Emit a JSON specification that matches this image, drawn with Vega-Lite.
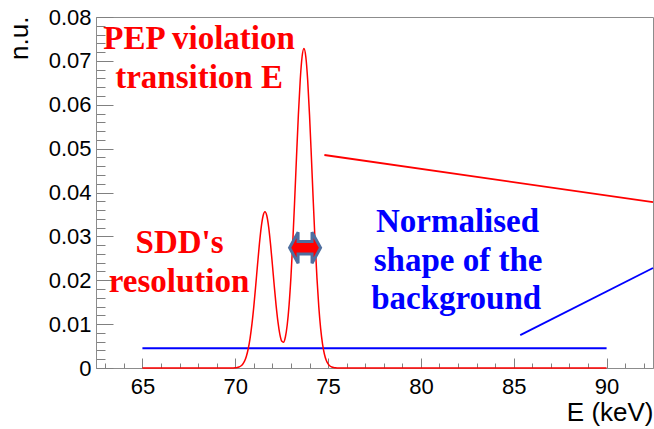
{
  "$schema": "https://vega.github.io/schema/vega-lite/v6.json",
  "width": 557,
  "height": 351,
  "autosize": "none",
  "padding": {"left": 96, "top": 17, "right": 1, "bottom": 61},
  "background": "white",
  "config": {
    "view": {"stroke": "#8c8c8c", "strokeWidth": 1},
    "axis": {
      "grid": false,
      "domainColor": "#8c8c8c",
      "tickColor": "#808080",
      "tickWidth": 1,
      "labelFont": "Liberation Sans",
      "titleFont": "Liberation Sans",
      "labelColor": "black",
      "titleColor": "black",
      "labelFontSize": 22,
      "titleFontSize": 26,
      "titleFontWeight": "normal"
    }
  },
  "datasets": {
    "spectrum": [
      {"E": 65, "v": 0},
      {"E": 69.5, "v": 0},
      {"E": 69.8, "v": 0.00001},
      {"E": 69.9, "v": 0.00002},
      {"E": 70.0, "v": 0.00005},
      {"E": 70.1, "v": 0.00011},
      {"E": 70.2, "v": 0.00023},
      {"E": 70.3, "v": 0.00045},
      {"E": 70.4, "v": 0.00087},
      {"E": 70.5, "v": 0.00156},
      {"E": 70.6, "v": 0.00269},
      {"E": 70.7, "v": 0.00439},
      {"E": 70.8, "v": 0.00682},
      {"E": 70.9, "v": 0.01004},
      {"E": 71.0, "v": 0.01405},
      {"E": 71.1, "v": 0.01867},
      {"E": 71.2, "v": 0.02355},
      {"E": 71.3, "v": 0.02822},
      {"E": 71.4, "v": 0.03211},
      {"E": 71.5, "v": 0.03469},
      {"E": 71.6, "v": 0.0356},
      {"E": 71.7, "v": 0.03469},
      {"E": 71.8, "v": 0.03212},
      {"E": 71.9, "v": 0.02823},
      {"E": 72.0, "v": 0.02359},
      {"E": 72.1, "v": 0.01876},
      {"E": 72.2, "v": 0.01427},
      {"E": 72.3, "v": 0.01051},
      {"E": 72.4, "v": 0.00774},
      {"E": 72.5, "v": 0.00616},
      {"E": 72.6, "v": 0.00589},
      {"E": 72.7, "v": 0.00707},
      {"E": 72.8, "v": 0.00985},
      {"E": 72.9, "v": 0.01439},
      {"E": 73.0, "v": 0.02076},
      {"E": 73.1, "v": 0.02883},
      {"E": 73.2, "v": 0.03822},
      {"E": 73.3, "v": 0.04818},
      {"E": 73.4, "v": 0.05771},
      {"E": 73.5, "v": 0.06566},
      {"E": 73.6, "v": 0.07094},
      {"E": 73.7, "v": 0.0728},
      {"E": 73.8, "v": 0.07094},
      {"E": 73.9, "v": 0.06566},
      {"E": 74.0, "v": 0.0577},
      {"E": 74.1, "v": 0.04816},
      {"E": 74.2, "v": 0.03817},
      {"E": 74.3, "v": 0.02873},
      {"E": 74.4, "v": 0.02054},
      {"E": 74.5, "v": 0.01394},
      {"E": 74.6, "v": 0.00898},
      {"E": 74.7, "v": 0.0055},
      {"E": 74.8, "v": 0.0032},
      {"E": 74.9, "v": 0.00177},
      {"E": 75.0, "v": 0.00093},
      {"E": 75.1, "v": 0.00046},
      {"E": 75.2, "v": 0.00022},
      {"E": 75.3, "v": 0.0001},
      {"E": 75.4, "v": 0.00004},
      {"E": 75.5, "v": 0.00002},
      {"E": 75.8, "v": 0},
      {"E": 90, "v": 0}
    ],
    "lines": [
      {"series": "background level", "group": "background", "E": 65, "v": 0.0045},
      {"series": "background level", "group": "background", "E": 90, "v": 0.0045},
      {"series": "signal pointer", "group": "signal", "E": 74.8, "v": 0.04855},
      {"series": "signal pointer", "group": "signal", "E": 92.5, "v": 0.0378},
      {"series": "background pointer", "group": "background", "E": 85.35, "v": 0.0075},
      {"series": "background pointer", "group": "background", "E": 92.5, "v": 0.0228}
    ],
    "notes": [
      {"text": "PEP violation", "group": "signal", "E": 68.05, "v": 0.07264},
      {"text": "transition E", "group": "signal", "E": 68.05, "v": 0.06375},
      {"text": "SDD's", "group": "signal", "E": 67.0, "v": 0.02614},
      {"text": "resolution", "group": "signal", "E": 66.97, "v": 0.01739},
      {"text": "Normalised", "group": "background", "E": 81.97, "v": 0.03107},
      {"text": "shape of the", "group": "background", "E": 82.0, "v": 0.02211},
      {"text": "background", "group": "background", "E": 81.9, "v": 0.01338}
    ],
    "marker": [
      {"E": 73.76, "v": 0.0274}
    ]
  },
  "resolve": {
    "scale": {"x": "shared", "y": "shared"},
    "axis": {"x": "independent", "y": "independent"}
  },
  "layer": [
    {
      "data": {"name": "lines"},
      "mark": {"type": "line", "strokeWidth": 1.8},
      "encoding": {
        "x": {
          "field": "E", "type": "quantitative",
          "scale": {"domain": [62.5, 92.5], "nice": false, "zero": false},
          "axis": {"orient": "bottom", "values": [63, 64, 66, 67, 68, 69, 71, 72, 73, 74, 76, 77, 78, 79, 81, 82, 83, 84, 86, 87, 88, 89, 91, 92], "labels": false, "domain": false, "title": null, "tickSize": -5}
        },
        "y": {
          "field": "v", "type": "quantitative",
          "scale": {"domain": [0, 0.08], "nice": false, "zero": true},
          "axis": {"orient": "left", "values": [0.002, 0.004, 0.006, 0.008, 0.012, 0.014, 0.016, 0.018, 0.022, 0.024, 0.026, 0.028, 0.032, 0.034, 0.036, 0.038, 0.042, 0.044, 0.046, 0.048, 0.052, 0.054, 0.056, 0.058, 0.062, 0.064, 0.066, 0.068, 0.072, 0.074, 0.076, 0.078], "labels": false, "domain": false, "title": null, "tickSize": -9}
        },
        "detail": {"field": "series"},
        "color": {
          "field": "group", "type": "nominal",
          "scale": {"domain": ["signal", "background"], "range": ["#ff0000", "#0000ff"]},
          "legend": null
        }
      }
    },
    {
      "data": {"name": "spectrum"},
      "mark": {"type": "line", "interpolate": "monotone", "strokeWidth": 1.5, "color": "#ff0000", "clip": false},
      "encoding": {
        "x": {
          "field": "E", "type": "quantitative",
          "axis": {
            "orient": "bottom", "values": [65, 70, 75, 80, 85, 90], "format": "d",
            "tickSize": -10, "labelPadding": 18, "title": "E (keV)",
            "titleAnchor": "end", "titleBaseline": "alphabetic", "titleY": 52
          }
        },
        "y": {
          "field": "v", "type": "quantitative",
          "axis": {
            "orient": "left", "values": [0, 0.01, 0.02, 0.03, 0.04, 0.05, 0.06, 0.07, 0.08], "format": ".2~f",
            "tickSize": -17, "labelPadding": 22, "title": "n.u.",
            "titleAnchor": "end", "titleBaseline": "alphabetic", "titleX": -69, "titleY": -1
          }
        }
      }
    },
    {
      "data": {"name": "notes"},
      "mark": {"type": "text", "font": "Liberation Serif", "fontWeight": "bold", "fontSize": 33, "align": "center", "baseline": "alphabetic"},
      "encoding": {
        "x": {"field": "E", "type": "quantitative", "axis": null},
        "y": {"field": "v", "type": "quantitative", "axis": null},
        "text": {"field": "text"},
        "color": {"field": "group", "type": "nominal", "legend": null}
      }
    },
    {
      "data": {"name": "marker"},
      "mark": {
        "type": "point", "filled": true,
        "shape": "M-1,0L-0.45,-1L-0.45,-0.4L0.45,-0.4L0.45,-1L1,0L0.45,1L0.45,0.4L-0.45,0.4L-0.45,1Z",
        "size": 960, "fill": "#ff0000", "stroke": "#4f6fa0", "strokeWidth": 3, "opacity": 1, "fillOpacity": 1
      },
      "encoding": {
        "x": {"field": "E", "type": "quantitative", "axis": null},
        "y": {"field": "v", "type": "quantitative", "axis": null}
      }
    }
  ]
}
